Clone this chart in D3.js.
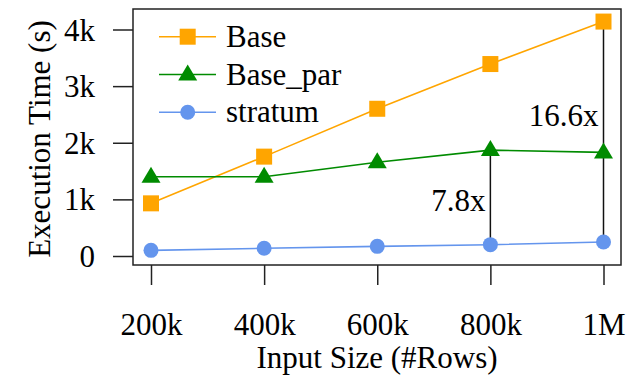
<!DOCTYPE html>
<html>
<head>
<meta charset="utf-8">
<script src="https://cdn.jsdelivr.net/npm/d3@7"></script>
<style>
    body { margin: 0; background: #fff; }
</style>
</head>
<body>
<svg id="chart" width="636" height="376"></svg>
<script>
// Input sizes (rows) and execution times (s)
const sizes = [200000, 400000, 600000, 800000, 1000000];
const sizeLabels = ["200k", "400k", "600k", "800k", "1M"];
const baseTimes = [930, 1755, 2600, 3390, 4140];
const baseParTimes = [1400, 1400, 1655, 1870, 1830];
const stratumTimes = [100, 136, 170, 200, 247];
const yTicks = [0, 1000, 2000, 3000, 4000];
const yTickLabels = ["0", "1k", "2k", "3k", "4k"];

// speedup annotations: [x index, top series, label]
const speedups = [
    {i: 3, top: baseParTimes, label: "7.8x"},
    {i: 4, top: baseTimes, label: "16.6x"}
];

const series = [
    {name: "Base", values: baseTimes, color: "#FFA500", shape: "square"},
    {name: "Base_par", values: baseParTimes, color: "#008B00", shape: "triangle"},
    {name: "stratum", values: stratumTimes, color: "#6495ED", shape: "circle"}
];

const FONT = "'Liberation Serif', 'Times New Roman', serif";

const svg = d3.select("#chart");
const box = {left: 133, top: 9, right: 621, bottom: 265};

const x = d3.scaleLinear().domain([200000, 1000000]).range([151, 603.5]);
const y = d3.scaleLinear().domain([0, 4000]).range([256, 29.5]);

// plot box
svg.append("rect")
    .attr("x", box.left)
    .attr("y", box.top)
    .attr("width", box.right - box.left)
    .attr("height", box.bottom - box.top)
    .attr("fill", "none")
    .attr("stroke", "#222")
    .attr("stroke-width", 1.5);

// y axis ticks
const yAxis = d3.axisLeft(y)
    .tickValues(yTicks)
    .tickFormat((d, i) => yTickLabels[i])
    .tickSize(20)
    .tickPadding(18);
const gy = svg.append("g").attr("transform", `translate(${box.left},0)`).call(yAxis);
gy.select(".domain").remove();
gy.selectAll("line").attr("stroke", "#222").attr("stroke-width", 1.5);
gy.selectAll("text").attr("font-size", 31).attr("dy", "0.34em");

// x axis ticks
const xAxis = d3.axisBottom(x)
    .tickValues(sizes)
    .tickFormat((d, i) => sizeLabels[i])
    .tickSize(20)
    .tickPadding(28);
const gx = svg.append("g").attr("transform", `translate(0,${box.bottom})`).call(xAxis);
gx.select(".domain").remove();
gx.selectAll("line").attr("stroke", "#222").attr("stroke-width", 1.5);
gx.selectAll("text").attr("font-size", 31).attr("dy", "0.71em");

// axis titles
svg.append("text")
    .attr("x", (box.left + box.right) / 2)
    .attr("y", 368)
    .attr("text-anchor", "middle")
    .attr("font-size", 31)
    .text("Input Size (#Rows)");

svg.append("text")
    .attr("transform", "translate(50,139) rotate(-90)")
    .attr("text-anchor", "middle")
    .attr("font-size", 31)
    .text("Execution Time (s)");

// speedup lines
speedups.forEach(s => {
    svg.append("line")
        .attr("x1", x(sizes[s.i]))
        .attr("x2", x(sizes[s.i]))
        .attr("y1", y(s.top[s.i]))
        .attr("y2", y(stratumTimes[s.i]))
        .attr("stroke", "#111")
        .attr("stroke-width", 1.5);
});

// marker drawing helper
function drawMarker(g, shape, cx, cy, color) {
    if (shape === "square") {
        g.append("rect")
            .attr("x", cx - 8).attr("y", cy - 8)
            .attr("width", 16).attr("height", 16)
            .attr("fill", color);
    } else if (shape === "triangle") {
        g.append("path")
            .attr("d", `M${cx},${cy - 10}L${cx + 9.5},${cy + 6}L${cx - 9.5},${cy + 6}Z`)
            .attr("fill", color);
    } else {
        g.append("circle")
            .attr("cx", cx).attr("cy", cy).attr("r", 7.5)
            .attr("fill", color);
    }
}

const line = d3.line()
    .x((d, i) => x(sizes[i]))
    .y(d => y(d));

series.forEach(s => {
    const g = svg.append("g");
    g.append("path")
        .attr("d", line(s.values))
        .attr("fill", "none")
        .attr("stroke", s.color)
        .attr("stroke-width", 1.6);
    s.values.forEach((v, i) => drawMarker(g, s.shape, x(sizes[i]), y(v), s.color));
});

// speedup labels
speedups.forEach((s, k) => {
    svg.append("text")
        .attr("x", x(sizes[s.i]) - 5)
        .attr("y", k === 0 ? 211 : 126)
        .attr("text-anchor", "end")
        .attr("font-size", 31)
        .text(s.label);
});

// legend
const legend = svg.append("g");
series.forEach((s, i) => {
    const ly = 36.7 + i * 37.8;
    legend.append("line")
        .attr("x1", 159).attr("x2", 216)
        .attr("y1", ly).attr("y2", ly)
        .attr("stroke", s.color)
        .attr("stroke-width", 1.6);
    drawMarker(legend, s.shape, 187.7, ly, s.color);
    legend.append("text")
        .attr("x", 226)
        .attr("y", ly + 10)
        .attr("font-size", 31)
        .text(s.name);
});

// serif everywhere
svg.selectAll("text").style("font-family", FONT).attr("fill", "#000");
</script>
</body>
</html>
